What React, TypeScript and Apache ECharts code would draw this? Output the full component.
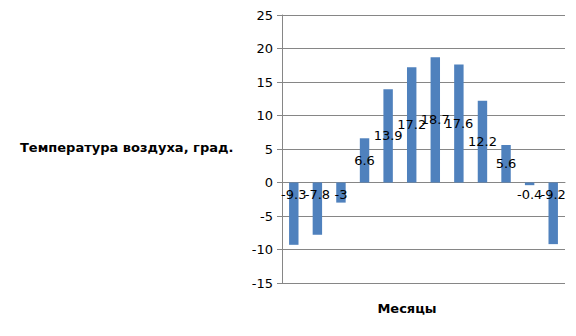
import React, { useEffect, useRef } from "react";
import * as echarts from "echarts";

const months = ["Янв", "Фев", "Мар", "Апр", "Май", "Июн", "Июл", "Авг", "Сен", "Окт", "Ноя", "Дек"];
const temps = [-9.3, -7.8, -3, 6.6, 13.9, 17.2, 18.7, 17.6, 12.2, 5.6, -0.4, -9.2];
const yTitle = "Температура воздуха, град.";
const xTitle = "Месяцы";

export default function App() {
  const ref = useRef<HTMLDivElement>(null);
  useEffect(() => {
    if (!ref.current) return;
    const chart = echarts.init(ref.current, undefined, { renderer: "svg" });
    const font = "DejaVu Sans";
    chart.setOption({
      animation: false,
      grid: { left: 282, right: 11, top: 15, bottom: 53 },
      xAxis: {
        type: "category",
        data: months,
        axisLabel: { show: false },
        axisTick: { show: false },
        axisLine: { show: true, onZero: true, lineStyle: { color: "#868686", width: 1 } },
      },
      yAxis: {
        type: "value",
        min: -15,
        max: 25,
        interval: 5,
        axisLine: { show: true, lineStyle: { color: "#868686", width: 1 } },
        axisTick: { show: true, length: 5, lineStyle: { color: "#868686" } },
        splitLine: { show: true, lineStyle: { color: "#868686", width: 1 } },
        axisLabel: { color: "#000", fontSize: 13, fontFamily: font, margin: 9 },
      },
      graphic: [
        {
          type: "text",
          left: 20,
          top: 141,
          style: { text: yTitle, font: `bold 13px '${font}'`, fill: "#000" },
        },
        {
          type: "text",
          x: 407,
          y: 308,
          style: { text: xTitle, font: `bold 13px '${font}'`, fill: "#000", textAlign: "center", textVerticalAlign: "middle" },
        },
      ],
      series: [
        {
          type: "bar",
          barWidth: "40%",
          itemStyle: { color: "#4F81BD" },
          data: temps.map((v) => ({
            value: v,
            label: {
              show: true,
              position: v >= 0 ? "inside" : "insideTop",
              distance: 5,
              color: "#000",
              fontSize: 13,
              fontFamily: font,
            },
          })),
        },
      ],
    });
    return () => chart.dispose();
  }, []);
  return <div ref={ref} style={{ width: 576, height: 336, position: "absolute", left: 0, top: 0 }} />;
}
